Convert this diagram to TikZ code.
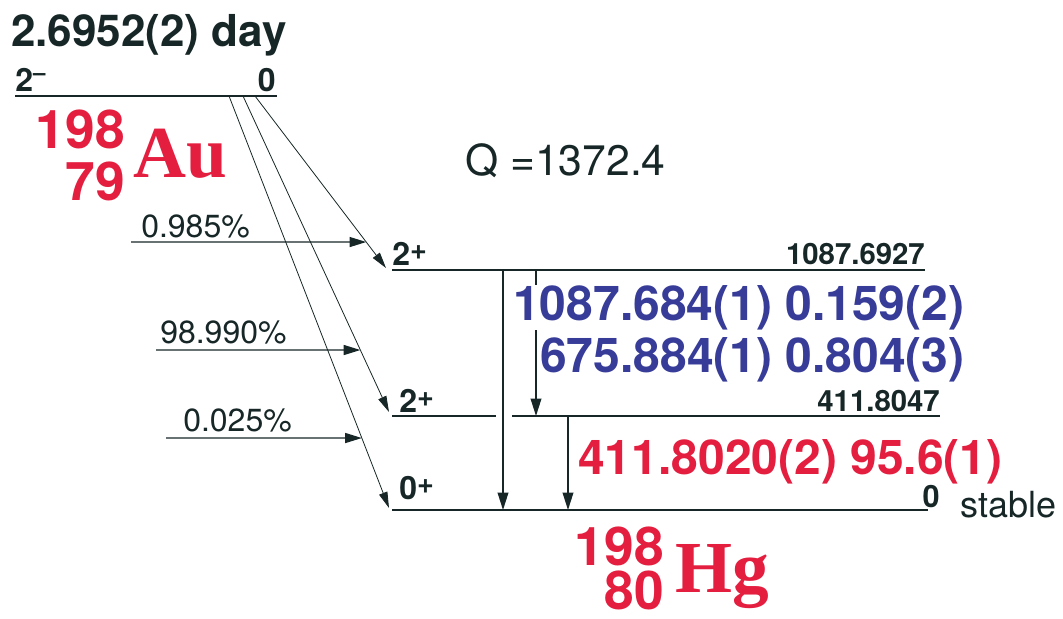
\documentclass[tikz,border=0pt]{standalone}
\usepackage{fontspec}
\setmainfont{TeX Gyre Heros}
\newfontfamily\nucfont{Liberation Serif}
\usepackage{graphicx}
\usetikzlibrary{arrows.meta}
\definecolor{ink}{HTML}{172626}
\definecolor{nucred}{HTML}{E41E3F}
\definecolor{gamblue}{HTML}{373C98}
\newcommand{\jpi}[2]{#1\raisebox{0.3ex}{\scalebox{0.9}{#2}}}

\begin{document}
\begin{tikzpicture}[x=0.75pt, y=-0.75pt,
    lvl/.style={line width=1.5pt, draw=ink},
    gam/.style={-{Triangle[length=13pt,width=8pt]}, line width=1.1pt, draw=ink},
    dec/.style={-{Triangle[length=12pt,width=6.5pt]}, line width=0.6pt, draw=ink},
    feed/.style={-{Triangle[length=12.5pt,width=7.5pt]}, line width=1pt, draw=ink},
    jlab/.style={font=\fontsize{24}{26}\selectfont\bfseries, text=ink, inner sep=0},
    elab/.style={font=\fontsize{22}{24}\selectfont\bfseries, text=ink, inner sep=0, anchor=base east},
    pct/.style={font=\fontsize{24}{26}\selectfont, text=ink, inner sep=0, anchor=base west},
    gtxt/.style={font=\fontsize{36}{38}\selectfont\bfseries, inner sep=0, anchor=base west},
    mass/.style={text=nucred, inner sep=0, align=right, anchor=base east},
    elem/.style={font=\nucfont\fontsize{55}{57}\selectfont\bfseries, text=nucred, inner sep=0, anchor=base west},
  ]
    \useasboundingbox (0,0) rectangle (1063,618);

    % parent level
    \coordinate (pw) at (15,96);
    \coordinate (pe) at (277,96);
    \draw[lvl] (pw) -- (pe);
    \node[font=\fontsize{33}{35}\selectfont\bfseries, text=ink, inner sep=0, anchor=base west]
      (thalf) at (11,46) {2.6952(2) day};
    \node[jlab, anchor=base west] (pjp) at (15,91) {2\raisebox{0.62ex}{\scalebox{0.7}{\textendash}}};
    \node[jlab, anchor=base east] (pen) at (276,91) {0};
    \node[mass, font=\fontsize{40}{39}\selectfont\bfseries] (auaz) at (125,200) {198\\79};
    \node[elem] (ausym) at (133,177) {Au};

    \node[font=\fontsize{32}{34}\selectfont, text=ink, inner sep=0, anchor=base west]
      (qval) at (465,175) {Q =1372.4};

    % daughter levels
    \coordinate (a1087) at (392,270);
    \coordinate (b1087) at (925,270);
    \coordinate (a411) at (392,416);
    \coordinate (b411) at (940,416);
    \coordinate (a0) at (392,510);
    \coordinate (b0) at (928,510);
    \draw[lvl] (a1087) -- (b1087);
    \draw[lvl] (a411) -- (496,416) (512,416) -- (b411);
    \draw[lvl] (a0) -- (b0);

    \node[jlab, anchor=base west] (j1087) at (392,265) {\jpi{2}{+}};
    \node[jlab, anchor=base west] (j411) at (399,412) {\jpi{2}{+}};
    \node[jlab, anchor=base west] (j0) at (399,499) {\jpi{0}{+}};
    \node[elab] (e1087) at (925,264) {1087.6927};
    \node[elab] (e411) at (940,411) {411.8047};
    \node[elab, font=\fontsize{23}{25}\selectfont\bfseries] (e0) at (940,507) {0};
    \node[font=\fontsize{27}{29}\selectfont, text=ink, inner sep=0, anchor=base west]
      (stab) at (960,517) {stable};

    % beta branches
    \coordinate (p1) at (255,96);
    \coordinate (p2) at (243,96);
    \coordinate (p3) at (229,96);
    \coordinate (t1087) at (386,268);
    \coordinate (t411) at (389,412);
    \coordinate (t0) at (389,508);
    \draw[dec] (p1) -- (t1087);
    \draw[dec] (p2) -- (t411);
    \draw[dec] (p3) -- (t0);

    % branching intensities
    \coordinate (f1) at (131,242);
    \coordinate (f1r) at (400,242);
    \coordinate (f2) at (156,350);
    \coordinate (f2r) at (400,350);
    \coordinate (f3) at (166,438);
    \coordinate (f3r) at (400,438);
    \draw[feed] (f1) -- (intersection of f1--f1r and p1--t1087);
    \draw[feed] (f2) -- (intersection of f2--f2r and p2--t411);
    \draw[feed] (f3) -- (intersection of f3--f3r and p3--t0);
    \node[pct] (i1087) at (141,237) {0.985\%};
    \node[pct] (i411) at (160,343) {98.990\%};
    \node[pct] (i0) at (183,431) {0.025\%};

    % gamma transitions
    \coordinate (g1s) at (503,270);
    \coordinate (g1e) at (503,510);
    \coordinate (g2s) at (536,270);
    \coordinate (g2e) at (536,416);
    \coordinate (g3s) at (568,416);
    \coordinate (g3e) at (568,510);
    \draw[gam] (g1s) -- (g1e);
    \draw[gam] (g2s) -- (g2e);
    \draw[gam] (g3s) -- (g3e);
    \node[gtxt, text=gamblue, fill=white] (gt1) at (513,320) {1087.684(1) 0.159(2)};
    \node[gtxt, text=gamblue] (gt2) at (540,372) {675.884(1) 0.804(3)};
    \node[gtxt, text=nucred] (gt3) at (578,474) {411.8020(2) 95.6(1)};

    % daughter nucleus
    \node[mass, font=\fontsize{40}{33}\selectfont\bfseries] (hgaz) at (664,609) {198\\80};
    \node[elem] (hgsym) at (675,592) {Hg};
  \end{tikzpicture}
\end{document}
